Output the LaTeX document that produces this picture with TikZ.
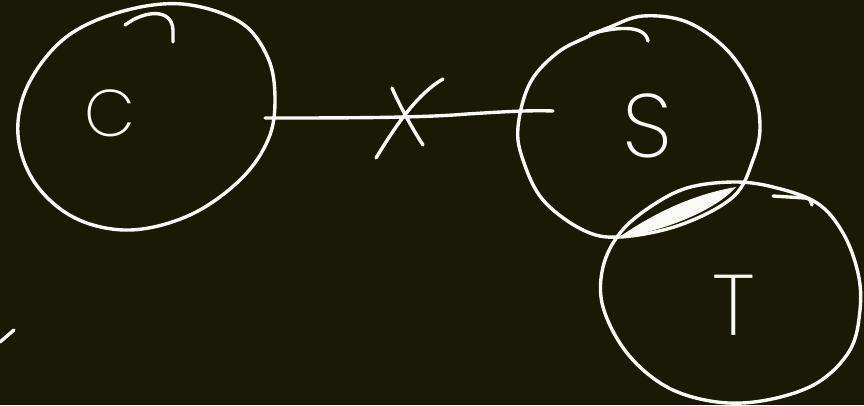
\documentclass[tikz,border=0pt]{standalone}
\usepackage{fontspec}
\IfFontExistsTF{Poppins ExtraLight}{\newfontfamily\hand{Poppins ExtraLight}}{%
 \IfFontExistsTF{Lato Thin}{\newfontfamily\hand{Lato Thin}}{%
  \IfFontExistsTF{Poppins Light}{\newfontfamily\hand{Poppins Light}}{%
   \IfFontExistsTF{Lato Light}{\newfontfamily\hand{Lato Light}}{%
    \IfFontExistsTF{Open Sans Light}{\newfontfamily\hand{Open Sans Light}}{%
     \newfontfamily\hand{Open Sans}}}}}}
\definecolor{bg}{RGB}{26,25,5}
\definecolor{ink}{RGB}{250,250,245}
\begin{document}
\begin{tikzpicture}[x=1pt,y=-1pt,
  stroke/.style={draw=ink,line width=3.4pt,line cap=round,line join=round},
  letter/.style={text=ink,inner sep=0pt,font=\hand}]
\fill[bg] (0,0) rectangle (864,405);
\useasboundingbox (0,0) rectangle (864,405);
% circle C
\draw[stroke] plot[smooth cycle,tension=0.6] coordinates {(182,4) (240,22) (268,58) (275,100) (268,140) (240,180) (190,215) (130,230) (75,218) (35,183) (18,135) (28,85) (65,38) (120,12)};
\draw[stroke] (125,25) .. controls (145,10) and (172,8) .. (173,30) -- (173,42);
\node[letter,font=\hand\fontsize{66pt}{66pt}\selectfont] (c) at (110,113) {C};
% circle S
\draw[stroke] plot[smooth cycle,tension=0.6] coordinates {(643,16) (687,22) (727,50) (753,90) (760,127) (753,160) (733,197) (680,225) (620,237) (583,230) (543,200) (523,160) (518,127) (530,83) (557,53) (587,37) (610,27)};
\draw[stroke] (590,34) .. controls (615,27) and (645,24) .. (648,41);
\node[letter,font=\hand\fontsize{90pt}{90pt}\selectfont] (s) at (647,126) {S};
% circle T
\draw[stroke] plot[smooth cycle,tension=0.6] coordinates {(733,182) (773,187) (817,203) (843,233) (858,273) (860,310) (850,350) (817,383) (767,400) (717,402) (667,387) (627,353) (603,307) (603,267) (620,233) (650,207) (687,188)};
\draw[stroke] (773,196) -- (805,198) .. controls (810,199) .. (812,205);
\node[letter,font=\hand\fontsize{86pt}{86pt}\selectfont] (t) at (734,305) {T};
% shaded lens
\fill[ink] (618,238) .. controls (655,212) and (695,194) .. (736,187) .. controls (718,208) and (670,230) .. (618,238) -- cycle;
% connector with cross
\coordinate (a) at (265,118);
\coordinate (b) at (553,111);
\draw[stroke] (a) .. controls (340,118) and (420,118) .. (467,114) .. controls (500,112) and (530,110) .. (b);
\coordinate (x1) at (392,88);
\coordinate (x2) at (423,145);
\coordinate (x3) at (376,158);
\coordinate (x4) at (443,79);
\draw[stroke] (x1) .. controls (398,102) and (410,125) .. (x2);
\draw[stroke] (x3) .. controls (392,132) and (415,95) .. (x4);
% slash
\coordinate (s1) at (0,342);
\coordinate (s2) at (14,330);
\draw[stroke] (s1) -- (s2);
\end{tikzpicture}
\end{document}
